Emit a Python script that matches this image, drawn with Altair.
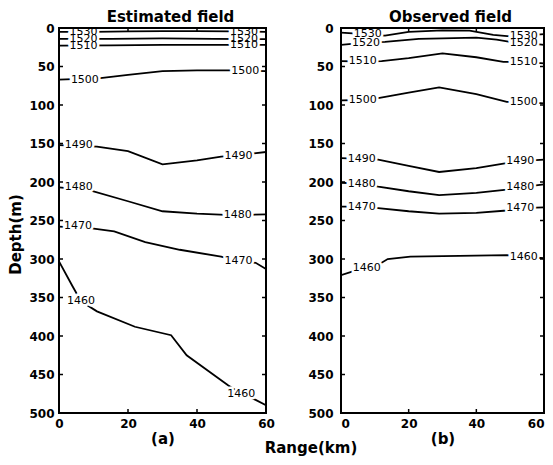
import altair as alt
import pandas as pd

# ---------------- data ----------------
# Estimated field contours: (range km, depth m)
E1530 = [(0, 5), (10, 5), (20, 4.5), (30, 4), (40, 4), (50, 4.5), (60, 5)]
E1520 = [(0, 14), (15, 14), (30, 13.5), (45, 14), (60, 14.5)]
E1510 = [(0, 23), (15, 22.5), (30, 22), (45, 22), (60, 22)]
E1500 = [(0, 67), (12, 65), (20, 61), (30, 56), (40, 55), (50, 55), (60, 56)]
E1490 = [(0, 152), (11, 154), (20, 160), (30, 177), (40, 172), (47, 167), (52, 165), (60, 161)]
E1480 = [(0, 207), (9, 211), (20, 225), (30, 238), (40, 241), (50, 243), (60, 242)]
E1470 = [(0, 258), (9, 260), (16, 264), (25, 278), (35, 288), (47, 297), (52, 303), (57, 305), (60, 313)]
E1460 = [(0, 303), (4, 336), (6.4, 355), (11, 368), (22, 388), (32.5, 399), (37, 425),
         (49, 464), (52.8, 475), (57, 483), (60, 490)]

# Observed field contours
O1530 = [(0, 6), (7, 8), (13, 10), (20, 5), (30, 3), (38, 3.5), (45, 9), (50, 11), (54, 10), (60, 8)]
O1520 = [(0, 22), (7, 19), (13, 18), (23, 14), (30, 13.5), (40, 12.5), (46, 15), (50, 18), (54, 19), (60, 22)]
O1510 = [(0, 43), (6.4, 43.5), (12, 43), (20, 39), (30, 33), (40, 38), (48, 44), (54, 44), (60, 46)]
O1500 = [(0, 94), (6.4, 93.5), (11, 91), (20, 84), (29, 77), (40, 86), (49, 96), (54, 96), (60, 98)]
O1490 = [(0, 169), (6, 170), (11, 171), (20, 179), (29, 187), (40, 182), (48, 176), (53, 173), (60, 171)]
O1480 = [(0, 201), (6, 202), (11, 206), (20, 212), (29, 217), (40, 214), (49, 210), (53, 207), (60, 203)]
O1470 = [(0, 232), (6, 232), (11, 234), (20, 238), (29, 241), (40, 240), (49, 237), (53, 234), (60, 233)]
O1460 = [(0, 321), (3.5, 316), (7.6, 312), (10.8, 308), (13.8, 300), (20.5, 297), (35, 296),
         (49, 295), (54, 297), (60, 299)]

est_lines = {1530: E1530, 1520: E1520, 1510: E1510, 1500: E1500,
             1490: E1490, 1480: E1480, 1470: E1470, 1460: E1460}
obs_lines = {1530: O1530, 1520: O1520, 1510: O1510, 1500: O1500,
             1490: O1490, 1480: O1480, 1470: O1470, 1460: O1460}

# contour labels: (text, range km, depth m)
est_labels = [("1530", 7.1, 5), ("1520", 7.1, 14), ("1510", 7.1, 23), ("1500", 7.5, 67),
              ("1490", 5.7, 152), ("1480", 5.7, 207), ("1470", 5.5, 257), ("1460", 6.4, 355),
              ("1530", 53.6, 5), ("1520", 53.6, 14), ("1510", 53.6, 22), ("1500", 54, 56),
              ("1490", 52, 166), ("1480", 51.8, 243), ("1470", 52, 303), ("1460", 52.8, 475)]
obs_labels = [("1530", 7.9, 8), ("1520", 7.4, 19), ("1510", 6.4, 43.5), ("1500", 6.4, 93.5),
              ("1490", 6.1, 170), ("1480", 6.1, 202), ("1470", 6.1, 232), ("1460", 7.6, 312),
              ("1530", 54, 10), ("1520", 54, 19), ("1510", 54, 44), ("1500", 54, 96),
              ("1490", 53, 173), ("1480", 53, 207), ("1470", 53, 234), ("1460", 54, 297)]

x_ticks = [0, 20, 40, 60]
y_ticks = [0, 50, 100, 150, 200, 250, 300, 350, 400, 450, 500]
x_domain = [0, 60]
y_domain = [0, 500]

FONT = "DejaVu Sans"


def lines_df(d):
    rows = []
    for lev, pts in d.items():
        for i, (r, z) in enumerate(pts):
            rows.append({"level": lev, "range": r, "depth": z, "i": i})
    return pd.DataFrame(rows)


def labels_df(lst):
    return pd.DataFrame([{"text": t, "range": r, "depth": z} for t, r, z in lst])


def panel(lines, labels, title, xtitle, ytitle, W, H, label_pad, flush, tdx):
    xs = alt.Scale(domain=x_domain, nice=False, zero=False)
    ys = alt.Scale(domain=y_domain, reverse=True, nice=False, zero=False)
    yaxis = alt.Axis(values=y_ticks, ticks=False, domain=False, grid=False,
                     labelPadding=label_pad, labelFont=FONT, labelFontWeight="bold",
                     labelFontSize=12, labelColor="black",
                     titleFont=FONT, titleFontWeight="bold", titleFontSize=15,
                     titleColor="black", titlePadding=5, titleY=206)
    xaxis = alt.Axis(values=x_ticks, ticks=False, domain=False, grid=False,
                     labelPadding=5, labelFont=FONT, labelFontWeight="bold",
                     labelFontSize=12, labelColor="black", labelFlush=flush,
                     titleFont=FONT, titleFontWeight="bold", titleFontSize=15,
                     titleColor="black", titlePadding=2)
    if ytitle:
        Y = alt.Y("depth:Q", scale=ys, axis=yaxis, title=ytitle)
    else:
        Y = alt.Y("depth:Q", scale=ys, axis=yaxis, title=None)
    X = alt.X("range:Q", scale=xs, axis=xaxis, title=xtitle)

    base_line = alt.Chart(lines).mark_line(color="black", strokeWidth=1.8, clip=True).encode(
        x=X, y=Y, detail="level:N", order="i:Q")
    halo = alt.Chart(labels).mark_text(
        font=FONT, fontSize=11, color="white", stroke="white", strokeWidth=5, clip=True
    ).encode(x=X, y=Y, text="text:N")
    txt = alt.Chart(labels).mark_text(font=FONT, fontSize=11, color="black", clip=True).encode(
        x=X, y=Y, text="text:N")
    ydf = pd.DataFrame({"depth": y_ticks})
    xdf = pd.DataFrame({"range": x_ticks})
    lt = alt.Chart(ydf).mark_rule(color="black", strokeWidth=1.5).encode(
        y=Y, x=alt.value(0), x2=alt.value(4))
    rt = alt.Chart(ydf).mark_rule(color="black", strokeWidth=1.5).encode(
        y=Y, x=alt.value(W - 4), x2=alt.value(W))
    tt = alt.Chart(xdf).mark_rule(color="black", strokeWidth=1.5).encode(
        x=X, y=alt.value(0), y2=alt.value(4))
    bt = alt.Chart(xdf).mark_rule(color="black", strokeWidth=1.5).encode(
        x=X, y=alt.value(H - 4), y2=alt.value(H))
    # plot frame (box round the plot area)
    frame = alt.Chart(pd.DataFrame({"k": [0]})).mark_rect(
        filled=False, stroke="black", strokeWidth=2, fill="transparent"
    ).encode(x=alt.value(0), x2=alt.value(W), y=alt.value(0), y2=alt.value(H))
    return alt.layer(base_line, halo, txt, lt, rt, tt, bt, frame).properties(
        width=W, height=H,
        title=alt.TitleParams(title, font=FONT, fontWeight="bold", fontSize=15,
                              color="black", offset=-3, dx=tdx),
    )


left = panel(lines_df(est_lines), labels_df(est_labels), "Estimated field", "(a)",
             "Depth(m)", 207, 385, 5, False, 8)
right = panel(lines_df(obs_lines), labels_df(obs_labels), "Observed field", "(b)",
              None, 203, 385, 8, True, 8)

chart = alt.hconcat(left, right, spacing=32).properties(
    title=alt.TitleParams("Range(km)", orient="bottom", anchor="middle", font=FONT,
                          fontWeight="bold", fontSize=15, color="black", offset=-5, dx=34),
    padding={"left": 0, "top": 2, "right": 0, "bottom": 0},
    background="white",
).configure_view(strokeWidth=0)

chart.save("out.html", embed_options={"renderer": "svg", "actions": False})
